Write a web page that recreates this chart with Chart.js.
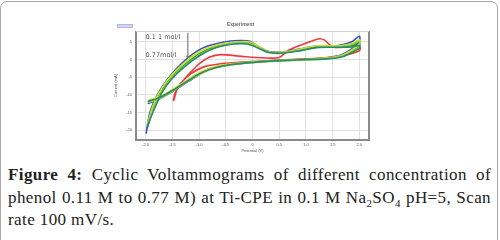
<!DOCTYPE html>
<html>
<head>
<meta charset="utf-8">
<script src="https://cdn.jsdelivr.net/npm/chart.js@4.4.0/dist/chart.umd.min.js"></script>
<style>
  html, body { margin: 0; padding: 0; background: #fff; }
  body { width: 500px; height: 240px; position: relative; overflow: hidden; }
  #frame { position: absolute; left: 0; top: 1px; width: 496px; height: 290px; border: 1.5px solid #a8a8a8; border-radius: 7px; }
  #box { position: absolute; left: 112px; top: 16px; width: 262px; height: 138px; }
  #swatch { position: absolute; left: 117px; top: 24px; width: 14px; height: 2px; background: #d0d2f2; border: 1px solid #b4b8e4; }
  #caption { position: absolute; left: 8px; top: 164px; width: 483px; font-family: "Liberation Serif", serif; font-size: 17px; letter-spacing: 0.4px; line-height: 22.5px; color: #222; text-align: justify; }
  #caption b { font-weight: bold; }
  #caption sub { font-size: 11px; line-height: 0; }
</style>
</head>
<body>
<div id="frame"></div>
<div id="box"><canvas id="cvChart"></canvas></div>
<div id="swatch"></div>
<div id="caption"><b>Figure 4:</b> Cyclic Voltammograms of different concentration of phenol 0.11 M to 0.77 M) at Ti-CPE in 0.1 M Na<sub>2</sub>SO<sub>4</sub> pH=5, Scan rate 100 mV/s.</div>
<script>
// potential (V) and current, one loop per concentration
var tealX  = [-1.96,-1.7,-1.45,-1.2,-0.95,-0.7,-0.4,0,0.5,1.0,1.4,1.7,1.9,2.0, 2.0,1.85,1.6,1.2,0.85,0.55,0.3,0.1,-0.1,-0.35,-0.7,-1.0,-1.25,-1.5,-1.7,-1.85,-1.97];
var tealY  = [-11.9,-10.5,-8.3,-5.9,-3.7,-2.3,-1.4,-0.8,-0.3,0.0,0.2,0.9,2.3,3.2, 4.0,3.6,3.5,3.4,2.4,1.8,2.0,3.3,4.4,4.4,3.3,1.0,-1.8,-5.3,-9.5,-14.5,-19];
var lightX = [-1.95,-1.7,-1.45,-1.2,-0.95,-0.7,-0.4,0,0.5,1.0,1.4,1.7,1.9,2.0, 2.0,1.85,1.6,1.2,0.85,0.55,0.3,0.1,-0.1,-0.35,-0.7,-1.0,-1.25,-1.5,-1.7,-1.85,-1.96];
var lightY = [-12.2,-10.8,-8.5,-6.1,-3.9,-2.4,-1.5,-0.9,-0.4,-0.1,0.3,1.1,2.6,3.6, 5.2,4.2,3.7,3.5,2.5,1.9,2.1,3.5,4.6,4.6,3.4,1.2,-1.6,-5.0,-9.2,-14,-18];
var yellowX = [-1.95,-1.7,-1.45,-1.2,-0.95,-0.7,-0.4,0,0.5,1.0,1.4,1.7,1.9,2.0, 2.0,1.85,1.6,1.2,0.85,0.55,0.3,0.1,-0.05,-0.3,-0.65,-1.0,-1.25,-1.5,-1.7,-1.86,-1.97];
var yellowY = [-11.6,-10.2,-8.0,-5.6,-3.4,-2.0,-1.2,-0.6,-0.2,0.1,0.5,1.4,3.2,4.5, 5.6,4.5,3.9,3.9,2.8,2.1,2.2,3.9,5.0,5.0,4.2,2.2,-0.6,-4.2,-8.2,-13,-18.5];
var blueX  = [-1.96,-1.75,-1.45,-1.2,-0.95,-0.7,-0.4,0,0.5,1.0,1.4,1.7,1.9,2.0, 2.0,1.85,1.6,1.2,0.85,0.55,0.3,0.12,-0.05,-0.25,-0.55,-0.9,-1.15,-1.4,-1.6,-1.78,-1.92,-1.99];
var blueY  = [-12.5,-11.2,-8.6,-6.2,-3.8,-2.2,-1.3,-0.7,-0.2,0.1,0.5,1.6,3.5,5.0, 6.6,5.0,4.0,3.8,2.9,2.1,2.3,3.6,5.2,5.4,4.9,3.5,1.2,-2.2,-5.8,-10,-15,-21];
var greenX = [-1.96,-1.7,-1.45,-1.2,-0.95,-0.7,-0.4,0,0.5,1.0,1.4,1.7,1.9,2.0, 2.0,1.85,1.6,1.2,0.85,0.55,0.3,0.1,-0.1,-0.35,-0.7,-1.0,-1.25,-1.5,-1.7,-1.85,-1.97];
var greenY = [-12.0,-10.6,-8.4,-6.0,-3.6,-2.3,-1.4,-0.8,-0.3,0.0,0.4,1.3,2.8,3.8, 4.8,4.0,3.6,3.7,2.6,2.0,2.2,3.8,4.9,4.7,3.7,1.6,-1.2,-4.6,-8.8,-13.5,-19.5];
var redX   = [-1.47,-1.42,-1.36,-1.15,-0.9,-0.6,-0.2,0.45,1.0,1.4,1.7,2.0, 2.0,1.75,1.5,1.35,1.25,1.1,0.85,0.65,0.5,0.2,-0.2,-0.6,-0.8,-1.0,-1.15,-1.3,-1.45,-1.48];
var redY   = [-11.5,-8.7,-7.0,-4.0,-2.0,-1.2,-0.7,-0.2,0.2,0.6,1.2,2.5, 4.0,3.6,3.6,5.5,5.9,5.2,3.8,2.4,0.6,0.5,0.9,1.4,0.7,-1.2,-3.5,-6.0,-9.5,-11.8];

var xTitle = 'Potential (V)';
var yTitle = 'Current (mA)';
var chartTitle = 'Experiment';
var noteTop = '0.1 1 mol/l';
var noteBottom = '0.77mol/l';

function pts(xs, ys) {
  return xs.map(function(x, i) { return { x: x, y: ys[i] }; });
}

var series = [
  { label: '0.77 M', xs: tealX, ys: tealY, color: '#2a8a6a' },
  { label: '0.55 M', xs: lightX, ys: lightY, color: '#8fd14f' },
  { label: '0.44 M', xs: yellowX, ys: yellowY, color: '#cfe02a' },
  { label: '0.11 M', xs: blueX, ys: blueY, color: '#3b4fc6' },
  { label: '0.33 M', xs: greenX, ys: greenY, color: '#2ea02e' },
  { label: '0.22 M', xs: redX, ys: redY, color: '#ec3b3b' }
];

// frame round the plot plus the concentration note and arrow
var notes = {
  id: 'notes',
  afterDraw: function(chart) {
    var c = chart.ctx, a = chart.chartArea;
    var sx = chart.scales.x, sy = chart.scales.y;
    c.save();
    c.strokeStyle = '#8a8a8a';
    c.lineWidth = 2;
    c.beginPath();
    c.moveTo(a.left, a.top);
    c.lineTo(a.left, a.bottom);
    c.lineTo(a.right, a.bottom);
    c.lineTo(a.right, a.top);
    c.stroke();
    c.strokeStyle = '#cfcfcf';
    c.lineWidth = 1;
    c.beginPath();
    c.moveTo(a.left, a.top + 0.5);
    c.lineTo(a.right, a.top + 0.5);
    c.stroke();

    c.fillStyle = '#555';
    c.font = '6.5px "DejaVu Sans"';
    c.textBaseline = 'middle';
    c.fillText(noteTop, sx.getPixelForValue(-2.0), sy.getPixelForValue(6.3));
    c.fillText(noteBottom, sx.getPixelForValue(-2.0), sy.getPixelForValue(1.2));

    var ax = sx.getPixelForValue(-1.21);
    var y0 = sy.getPixelForValue(7.6), y1 = sy.getPixelForValue(0.4);
    c.strokeStyle = '#666';
    c.lineWidth = 1;
    c.beginPath();
    c.moveTo(ax, y0);
    c.lineTo(ax, y1);
    c.moveTo(ax - 1.5, y1 - 2.5);
    c.lineTo(ax, y1);
    c.lineTo(ax + 1.5, y1 - 2.5);
    c.stroke();
    c.restore();
  }
};

var ctx = document.getElementById('cvChart').getContext('2d');
var cvChart = new Chart(ctx, {
  type: 'scatter',
  data: {
    datasets: series.map(function(s) {
      return {
        label: s.label,
        data: pts(s.xs, s.ys),
        showLine: true,
        borderColor: s.color,
        backgroundColor: s.color,
        borderWidth: 1.6,
        pointRadius: 0,
        tension: 0.3
      };
    })
  },
  options: {
    responsive: true,
    maintainAspectRatio: false,
    animation: false,
    layout: { padding: { left: 0, right: 5, top: 0, bottom: 0 } },
    plugins: {
      legend: { display: false },
      tooltip: { enabled: false },
      title: {
        display: true,
        text: chartTitle,
        color: '#666',
        font: { size: 5 },
        padding: { top: 6, bottom: 3 }
      }
    },
    scales: {
      x: {
        type: 'linear',
        min: -2.18,
        max: 2.18,
        border: { display: false },
        grid: { color: '#e0e0e0', lineWidth: 1, drawTicks: false },
        ticks: { stepSize: 0.5, includeBounds: false, color: '#555', font: { size: 4 }, padding: 2 },
        title: { display: true, text: xTitle, color: '#555', font: { size: 4 }, padding: 1 },
        afterFit: function(s) { s.height = 14; }
      },
      y: {
        type: 'linear',
        min: -22.8,
        max: 8.1,
        border: { display: false },
        grid: { color: '#e0e0e0', lineWidth: 1, drawTicks: false },
        ticks: { stepSize: 5, includeBounds: false, color: '#555', font: { size: 4 }, padding: 4 },
        title: { display: true, text: yTitle, color: '#555', font: { size: 4 }, padding: 1 },
        afterFit: function(s) { s.width = 24; }
      }
    }
  },
  plugins: [notes]
});
</script>
</body>
</html>
